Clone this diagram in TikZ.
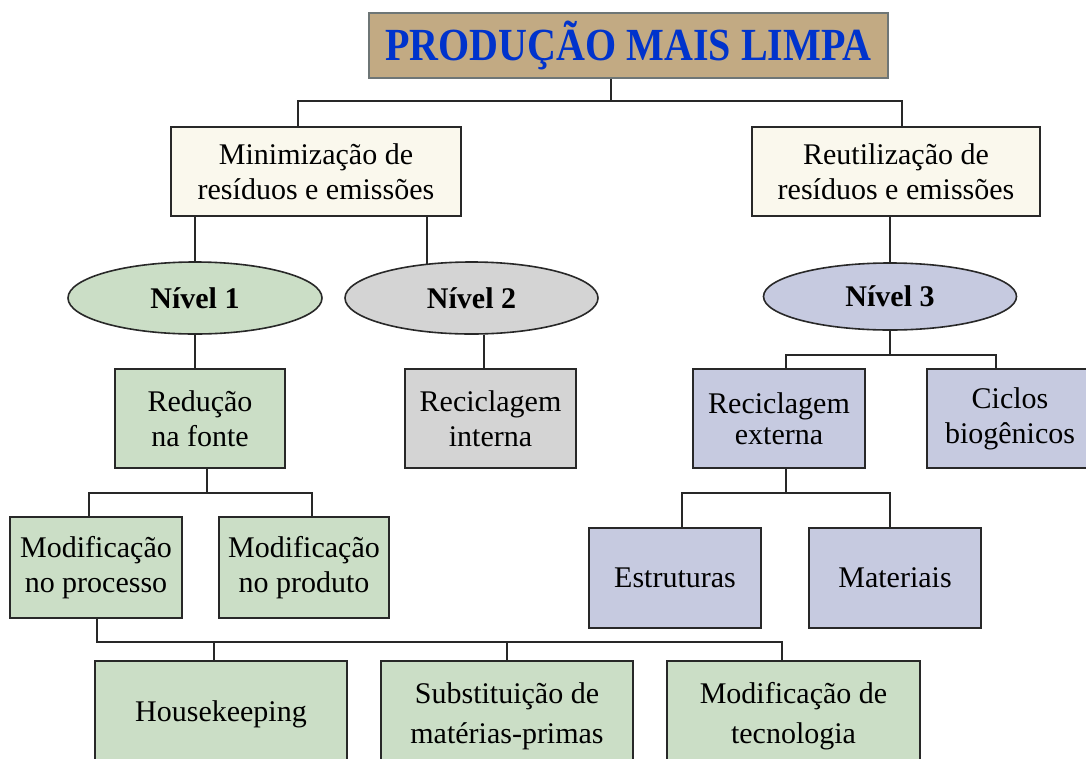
\documentclass[tikz,border=0pt]{standalone}
\usepackage{fontspec}
\setmainfont{Liberation Serif}
\usetikzlibrary{shapes.geometric}
\definecolor{titlefill}{RGB}{194,170,131}
\definecolor{titleblue}{RGB}{0,51,204}
\definecolor{titleborder}{RGB}{110,118,118}
\definecolor{cream}{RGB}{250,248,237}
\definecolor{lgreen}{RGB}{203,222,198}
\definecolor{lgray}{RGB}{212,212,212}
\definecolor{lav}{RGB}{198,202,224}
\definecolor{ink}{RGB}{40,40,40}
\tikzset{
  boxbase/.style={draw=ink, line width=1.6pt, rectangle, inner sep=0pt, align=center,
    font=\fontsize{30}{35}\selectfont},
  topbox/.style={boxbase, fill=cream, font=\fontsize{30}{35}\selectfont},
  greenbox/.style={boxbase, fill=lgreen},
  graybox/.style={boxbase, fill=lgray},
  lavbox/.style={boxbase, fill=lav},
  wide/.style={font=\fontsize{30}{40}\selectfont},
  level/.style={draw=ink, line width=1.6pt, ellipse, inner sep=0pt,
    font=\fontsize{30}{31}\selectfont\bfseries},
  link/.style={draw=ink, line width=1.6pt}
}
\begin{document}
\begin{tikzpicture}[x=1pt,y=-1pt]
\clip (0,0) rectangle (1086,758);
\fill[white] (0,0) rectangle (1086,758);

% title
\node[draw=titleborder, line width=1.6pt, fill=titlefill, minimum width=519pt, minimum height=65pt, inner sep=0pt]
  (title) at (628.5,45.5) {\scalebox{0.87}[1]{\fontsize{46}{50}\selectfont\bfseries\color{titleblue}PRODUÇÃO MAIS LIMPA}};

% second row
\node[topbox, minimum width=290pt, minimum height=89pt] (mini) at (316,171.5) {Minimização de\\resíduos e emissões};
\node[topbox, minimum width=288pt, minimum height=89pt] (reut) at (896,171.5) {Reutilização de\\resíduos e emissões};

% levels
\node[level, fill=lgreen, minimum width=254pt, minimum height=72pt] (n1) at (195,298) {Nível 1};
\node[level, fill=lgray, minimum width=253pt, minimum height=72pt] (n2) at (471.5,298) {Nível 2};
\node[level, fill=lav, minimum width=253pt, minimum height=67pt] (n3) at (890,296.5) {Nível 3};

% third row
\node[greenbox, minimum width=170pt, minimum height=99pt] (red) at (200,418.5) {Redução\\na fonte};
\node[graybox, minimum width=171pt, minimum height=99pt] (recint) at (490.5,418.5) {Reciclagem\\interna};
\node[lavbox, minimum width=172pt, minimum height=99pt, font=\fontsize{30}{31}\selectfont] (recext) at (779,418.5) {Reciclagem\\externa};
\node[lavbox, minimum width=166pt, minimum height=99pt] (ciclos) at (1010,418.5) {Ciclos\\biogênicos};

% fourth row
\node[greenbox, minimum width=172pt, minimum height=101pt] (modproc) at (96,567.5) {Modificação\\no processo};
\node[greenbox, minimum width=170pt, minimum height=101pt] (modprod) at (304,567.5) {Modificação\\no produto};
\node[lavbox, minimum width=172pt, minimum height=100pt] (estr) at (675,578) {Estruturas};
\node[lavbox, minimum width=172pt, minimum height=100pt] (mat) at (895,578) {Materiais};

% bottom row (cut off by the lower edge)
\node[greenbox, minimum width=252pt, minimum height=106pt] (house) at (221,714) {Housekeeping};
\node[greenbox, wide, minimum width=252pt, minimum height=110pt] (subst) at (507,716) {Substituição de\\matérias-primas};
\node[greenbox, wide, minimum width=253pt, minimum height=110pt] (modtec) at (793.5,716) {Modificação de\\tecnologia};

% junction coordinates
\coordinate (j0) at (611,101);
\coordinate (jl) at (298,101);
\coordinate (jr) at (902,101);
\coordinate (c2a) at (427,264);
\coordinate (c2b) at (484,0);
\coordinate (a3) at (786,355);
\coordinate (b3) at (996,355);
\coordinate (r0) at (207,493);
\coordinate (ra) at (89,493);
\coordinate (rb) at (312,493);
\coordinate (pa) at (97,642);
\coordinate (pb) at (214,642);
\coordinate (pc) at (507,642);
\coordinate (pe) at (782,642);
\coordinate (e0) at (786,493);
\coordinate (ea) at (682,493);
\coordinate (eb) at (890,493);

% connectors
\draw[link] (title.south -| j0) -- (j0);
\draw[link] (mini.north -| jl) -- (jl) -- (jr) -- (reut.north -| jr);
\draw[link] (mini.south -| n1.north) -- (n1.north);
\draw[link] (mini.south -| c2a) -- (c2a);
\draw[link] (reut.south -| n3.north) -- (n3.north);
\draw[link] (n1.south) -- (n1.south |- red.north);
\draw[link] (n2.south -| c2b) -- (recint.north -| c2b);
\draw[link] (n3.south) -- (n3.south |- a3);
\draw[link] (recext.north -| a3) -- (a3) -- (b3) -- (ciclos.north -| b3);
\draw[link] (red.south -| r0) -- (r0);
\draw[link] (modproc.north -| ra) -- (ra) -- (rb) -- (modprod.north -| rb);
\draw[link] (modproc.south -| pa) -- (pa) -- (pe) -- (modtec.north -| pe);
\draw[link] (pb) -- (house.north -| pb);
\draw[link] (pc) -- (subst.north -| pc);
\draw[link] (recext.south -| e0) -- (e0);
\draw[link] (estr.north -| ea) -- (ea) -- (eb) -- (mat.north -| eb);
\end{tikzpicture}
\end{document}
